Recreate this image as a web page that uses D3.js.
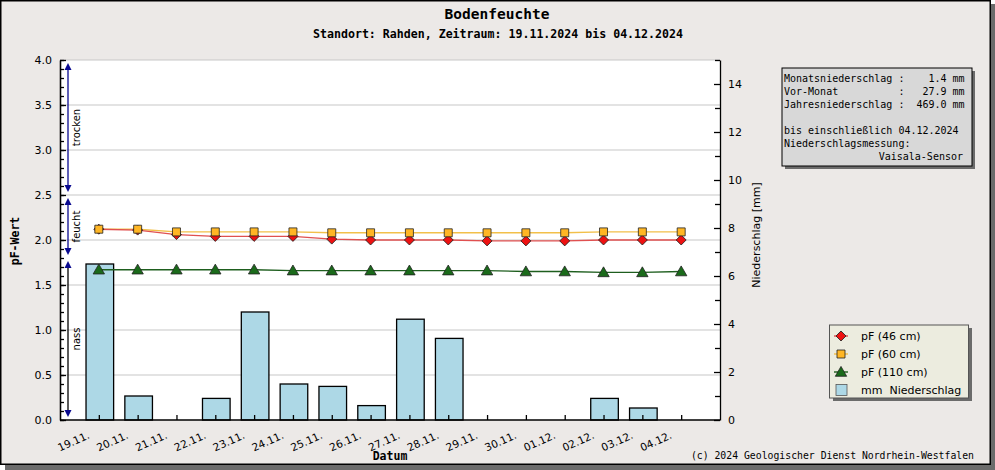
<!DOCTYPE html>
<html><head><meta charset="utf-8">
<script src="https://cdn.jsdelivr.net/npm/d3@7"></script>
<style>
html,body{margin:0;padding:0;background:#fff;}
svg text{font-family:"DejaVu Sans",sans-serif;}
.mono{font-family:"DejaVu Sans Mono",monospace;}
</style></head>
<body>
<svg id="c" width="995" height="470"></svg>
<script>
const categories = ["19.11.","20.11.","21.11.","22.11.","23.11.","24.11.","25.11.","26.11.","27.11.","28.11.","29.11.","30.11.","01.12.","02.12.","03.12.","04.12."];
const pf46  = [2.12,2.11,2.06,2.04,2.04,2.04,2.01,2.00,2.00,2.00,1.99,1.99,1.99,2.00,2.00,2.00];
const pf60  = [2.12,2.12,2.09,2.09,2.09,2.09,2.08,2.08,2.08,2.08,2.08,2.08,2.08,2.09,2.09,2.09];
const pf110 = [1.67,1.67,1.67,1.67,1.67,1.66,1.66,1.66,1.66,1.66,1.66,1.65,1.65,1.64,1.64,1.65];
const rain  = [6.5,1.0,0,0.9,4.5,1.5,1.4,0.6,4.2,3.4,0,0,0,0.9,0.5,0];
const pfTicks = [0,0.5,1.0,1.5,2.0,2.5,3.0,3.5,4.0];
const rainTicks = [0,2,4,6,8,10,12,14];
const bandLabels = ["trocken","feucht","nass"];
const bandFrom = [4.0,2.5,1.8];
const bandTo = [2.5,1.8,0.0];
const infoLines = ["Monatsniederschlag :    1.4 mm","Vor-Monat          :   27.9 mm","Jahresniederschlag :  469.0 mm","","bis einschließlich 04.12.2024","Niederschlagsmessung:"];
const infoLast = "Vaisala-Sensor";
const legendLabels = ["pF (46 cm)","pF (60 cm)","pF (110 cm)","mm  Niederschlag"];

const svg = d3.select("#c");
svg.append("rect").attr("x",5).attr("y",4).attr("width",990).attr("height",466).attr("fill","#6b6b6b");
svg.append("rect").attr("x",0.75).attr("y",0.75).attr("width",989.5).attr("height",463.5).attr("fill","#ece9e7").attr("stroke","#000").attr("stroke-width",1.5);

const L=60,R=720,T=60,B=420;
const x = d3.scaleLinear().domain([-1,categories.length]).range([L,R]);
const yL = d3.scaleLinear().domain([0,4]).range([B,T]);
const yR = d3.scaleLinear().domain([0,15]).range([B,T]);

svg.append("rect").attr("x",L).attr("y",T).attr("width",R-L).attr("height",B-T).attr("fill","#fff");
svg.append("g").selectAll("line").data(pfTicks.filter(d=>d>0)).join("line")
  .attr("x1",L).attr("x2",R).attr("y1",d=>yL(d)).attr("y2",d=>yL(d))
  .attr("stroke","#c8c8c8").attr("stroke-width",1.2);

// bars
const bw = 27.6;
const barG = svg.append("g");
rain.forEach((v,i)=>{
  if(v<=0) return;
  barG.append("rect").attr("x",x(i)-bw/2+1).attr("y",yR(v)).attr("width",bw).attr("height",yR(0)-yR(v))
    .attr("fill","#add8e6").attr("stroke","#000").attr("stroke-width",1.3);
});

function styleAxis(g){g.selectAll("path,line").attr("stroke","#000").attr("stroke-width",1.3);}
const ax = svg.append("g").attr("transform",`translate(0,${B})`)
  .call(d3.axisBottom(x).tickValues(d3.range(categories.length)).tickFormat(i=>categories[i]).tickSizeInner(-5).tickSizeOuter(0));
styleAxis(ax);
ax.select(".domain").attr("d",`M${L},0H${R}`);
ax.selectAll("text").attr("font-size",10.5).attr("fill","#000").attr("text-anchor","end")
  .attr("y",0).attr("dy",0)
  .attr("transform","translate(-9,18) rotate(-24)");

const axL = svg.append("g").attr("transform",`translate(${L},0)`)
  .call(d3.axisLeft(yL).tickValues(pfTicks).tickFormat(d3.format(".1f")).tickSizeInner(-6).tickSizeOuter(0).tickPadding(8));
styleAxis(axL);
axL.selectAll("text").attr("font-size",11).attr("fill","#000");
const axLm = svg.append("g").attr("transform",`translate(${L},0)`)
  .call(d3.axisLeft(yL).tickValues(d3.range(0,41).map(d=>d/10)).tickFormat("").tickSizeInner(-4).tickSizeOuter(0));
styleAxis(axLm);

const axR = svg.append("g").attr("transform",`translate(${R},0)`)
  .call(d3.axisRight(yR).tickValues(rainTicks).tickSizeInner(-6).tickSizeOuter(0).tickPadding(8));
styleAxis(axR);
axR.selectAll("text").attr("font-size",11).attr("fill","#000");
const axRm = svg.append("g").attr("transform",`translate(${R},0)`)
  .call(d3.axisRight(yR).tickValues([1,3,5,7,9,11,13,15]).tickFormat("").tickSizeInner(-5).tickSizeOuter(0));
styleAxis(axRm);
axRm.select(".domain").remove();

const series = [
  {v:pf46, line:"#e05050", fill:"#ee1111", sym:d3.symbolSquare, size:50, rot:45},
  {v:pf60, line:"#f2c04a", fill:"#ffb624", sym:d3.symbolSquare, size:64, rot:0},
  {v:pf110, line:"#1e5e1e", fill:"#1a6a1a", sym:d3.symbolTriangle, size:56, rot:0}
];
const lineGen = d3.line().x((d,i)=>x(i)).y(d=>yL(d));
series.slice().reverse().forEach(s=>{
  svg.append("path").attr("d",lineGen(s.v)).attr("fill","none").attr("stroke",s.line).attr("stroke-width",1.4);
});
series.forEach(s=>{
  svg.append("g").selectAll("path").data(s.v).join("path")
    .attr("d",d3.symbol().type(s.sym).size(s.size))
    .attr("transform",(d,i)=>`translate(${x(i)},${yL(d)+(s.sym===d3.symbolTriangle?1:0)}) rotate(${s.rot})`)
    .attr("fill",s.fill).attr("stroke","#222").attr("stroke-width",0.8);
});

const navy="#0a0a90";
const ag = svg.append("g");
const ax0 = 68;
bandLabels.forEach((lab,i)=>{
  const y1 = yL(bandFrom[i])+3, y2 = yL(bandTo[i])-3;
  ag.append("line").attr("x1",ax0).attr("x2",ax0).attr("y1",y1+4).attr("y2",y2-4)
    .attr("stroke", i===2?"#000":navy).attr("stroke-width",1.3);
  ag.append("path").attr("d",`M${ax0},${y1}L${ax0-3.5},${y1+7}L${ax0+3.5},${y1+7}Z`).attr("fill",navy);
  ag.append("path").attr("d",`M${ax0},${y2}L${ax0-3.5},${y2-7}L${ax0+3.5},${y2-7}Z`).attr("fill",navy);
  ag.append("text").attr("transform",`translate(80,${(y1+y2)/2}) rotate(-90)`)
    .attr("text-anchor","middle").attr("font-size",10).attr("fill","#000").text(lab);
});

svg.append("text").attr("class","mono").attr("x",497).attr("y",19).attr("text-anchor","middle")
  .attr("font-size",14.5).attr("font-weight","bold").text("Bodenfeuchte");
svg.append("text").attr("class","mono").attr("x",498).attr("y",38).attr("text-anchor","middle")
  .attr("font-size",11.6).attr("font-weight","bold").text("Standort: Rahden, Zeitraum: 19.11.2024 bis 04.12.2024");
svg.append("text").attr("class","mono").attr("transform","translate(19,241) rotate(-90)").attr("text-anchor","middle")
  .attr("font-size",11.5).attr("font-weight","bold").text("pF-Wert");
svg.append("text").attr("class","mono").attr("x",390).attr("y",460).attr("text-anchor","middle")
  .attr("font-size",11.5).attr("font-weight","bold").text("Datum");
svg.append("text").attr("transform","translate(760,235) rotate(-90)").attr("text-anchor","middle")
  .attr("font-size",11).text("Niederschlag [mm]");
svg.append("text").attr("class","mono").attr("x",974).attr("y",459).attr("text-anchor","end")
  .attr("font-size",9.8).text("(c) 2024 Geologischer Dienst Nordrhein-Westfalen");

svg.append("rect").attr("x",785).attr("y",71).attr("width",190).attr("height",98).attr("fill","#6b6b6b");
svg.append("rect").attr("x",782).attr("y",68).attr("width",190).attr("height",98).attr("fill","#d8d8d8").attr("stroke","#000").attr("stroke-width",1);
infoLines.forEach((t,i)=>{
  svg.append("text").attr("class","mono").attr("x",784).attr("y",82+i*13).attr("font-size",10)
    .attr("xml:space","preserve").style("white-space","pre").text(t);
});
svg.append("text").attr("class","mono").attr("x",963).attr("y",82+6*13).attr("font-size",10).attr("text-anchor","end").text(infoLast);

svg.append("rect").attr("x",833).attr("y",328).attr("width",139).attr("height",73).attr("fill","#6b6b6b");
svg.append("rect").attr("x",829.5).attr("y",325).attr("width",139).attr("height",73).attr("fill","#ececdf").attr("stroke","#555").attr("stroke-width",1);
legendLabels.forEach((t,i)=>{
  const cy = 336+i*18;
  if(i<3){
    const s=series[i];
    svg.append("line").attr("x1",834).attr("x2",848).attr("y1",cy).attr("y2",cy).attr("stroke",s.line).attr("stroke-width",1.4);
    svg.append("path").attr("d",d3.symbol().type(s.sym).size(s.size)).attr("transform",`translate(841,${cy+(s.sym===d3.symbolTriangle?1:0)}) rotate(${s.rot})`)
      .attr("fill",s.fill).attr("stroke","#222").attr("stroke-width",0.8);
  } else {
    svg.append("rect").attr("x",836).attr("y",cy-5.5).attr("width",11).attr("height",11).attr("fill","#add8e6").attr("stroke","#555").attr("stroke-width",0.8);
  }
  svg.append("text").attr("x",861).attr("y",cy+4).attr("font-size",11).attr("xml:space","preserve").style("white-space","pre").text(t);
});
</script>
</body></html>
